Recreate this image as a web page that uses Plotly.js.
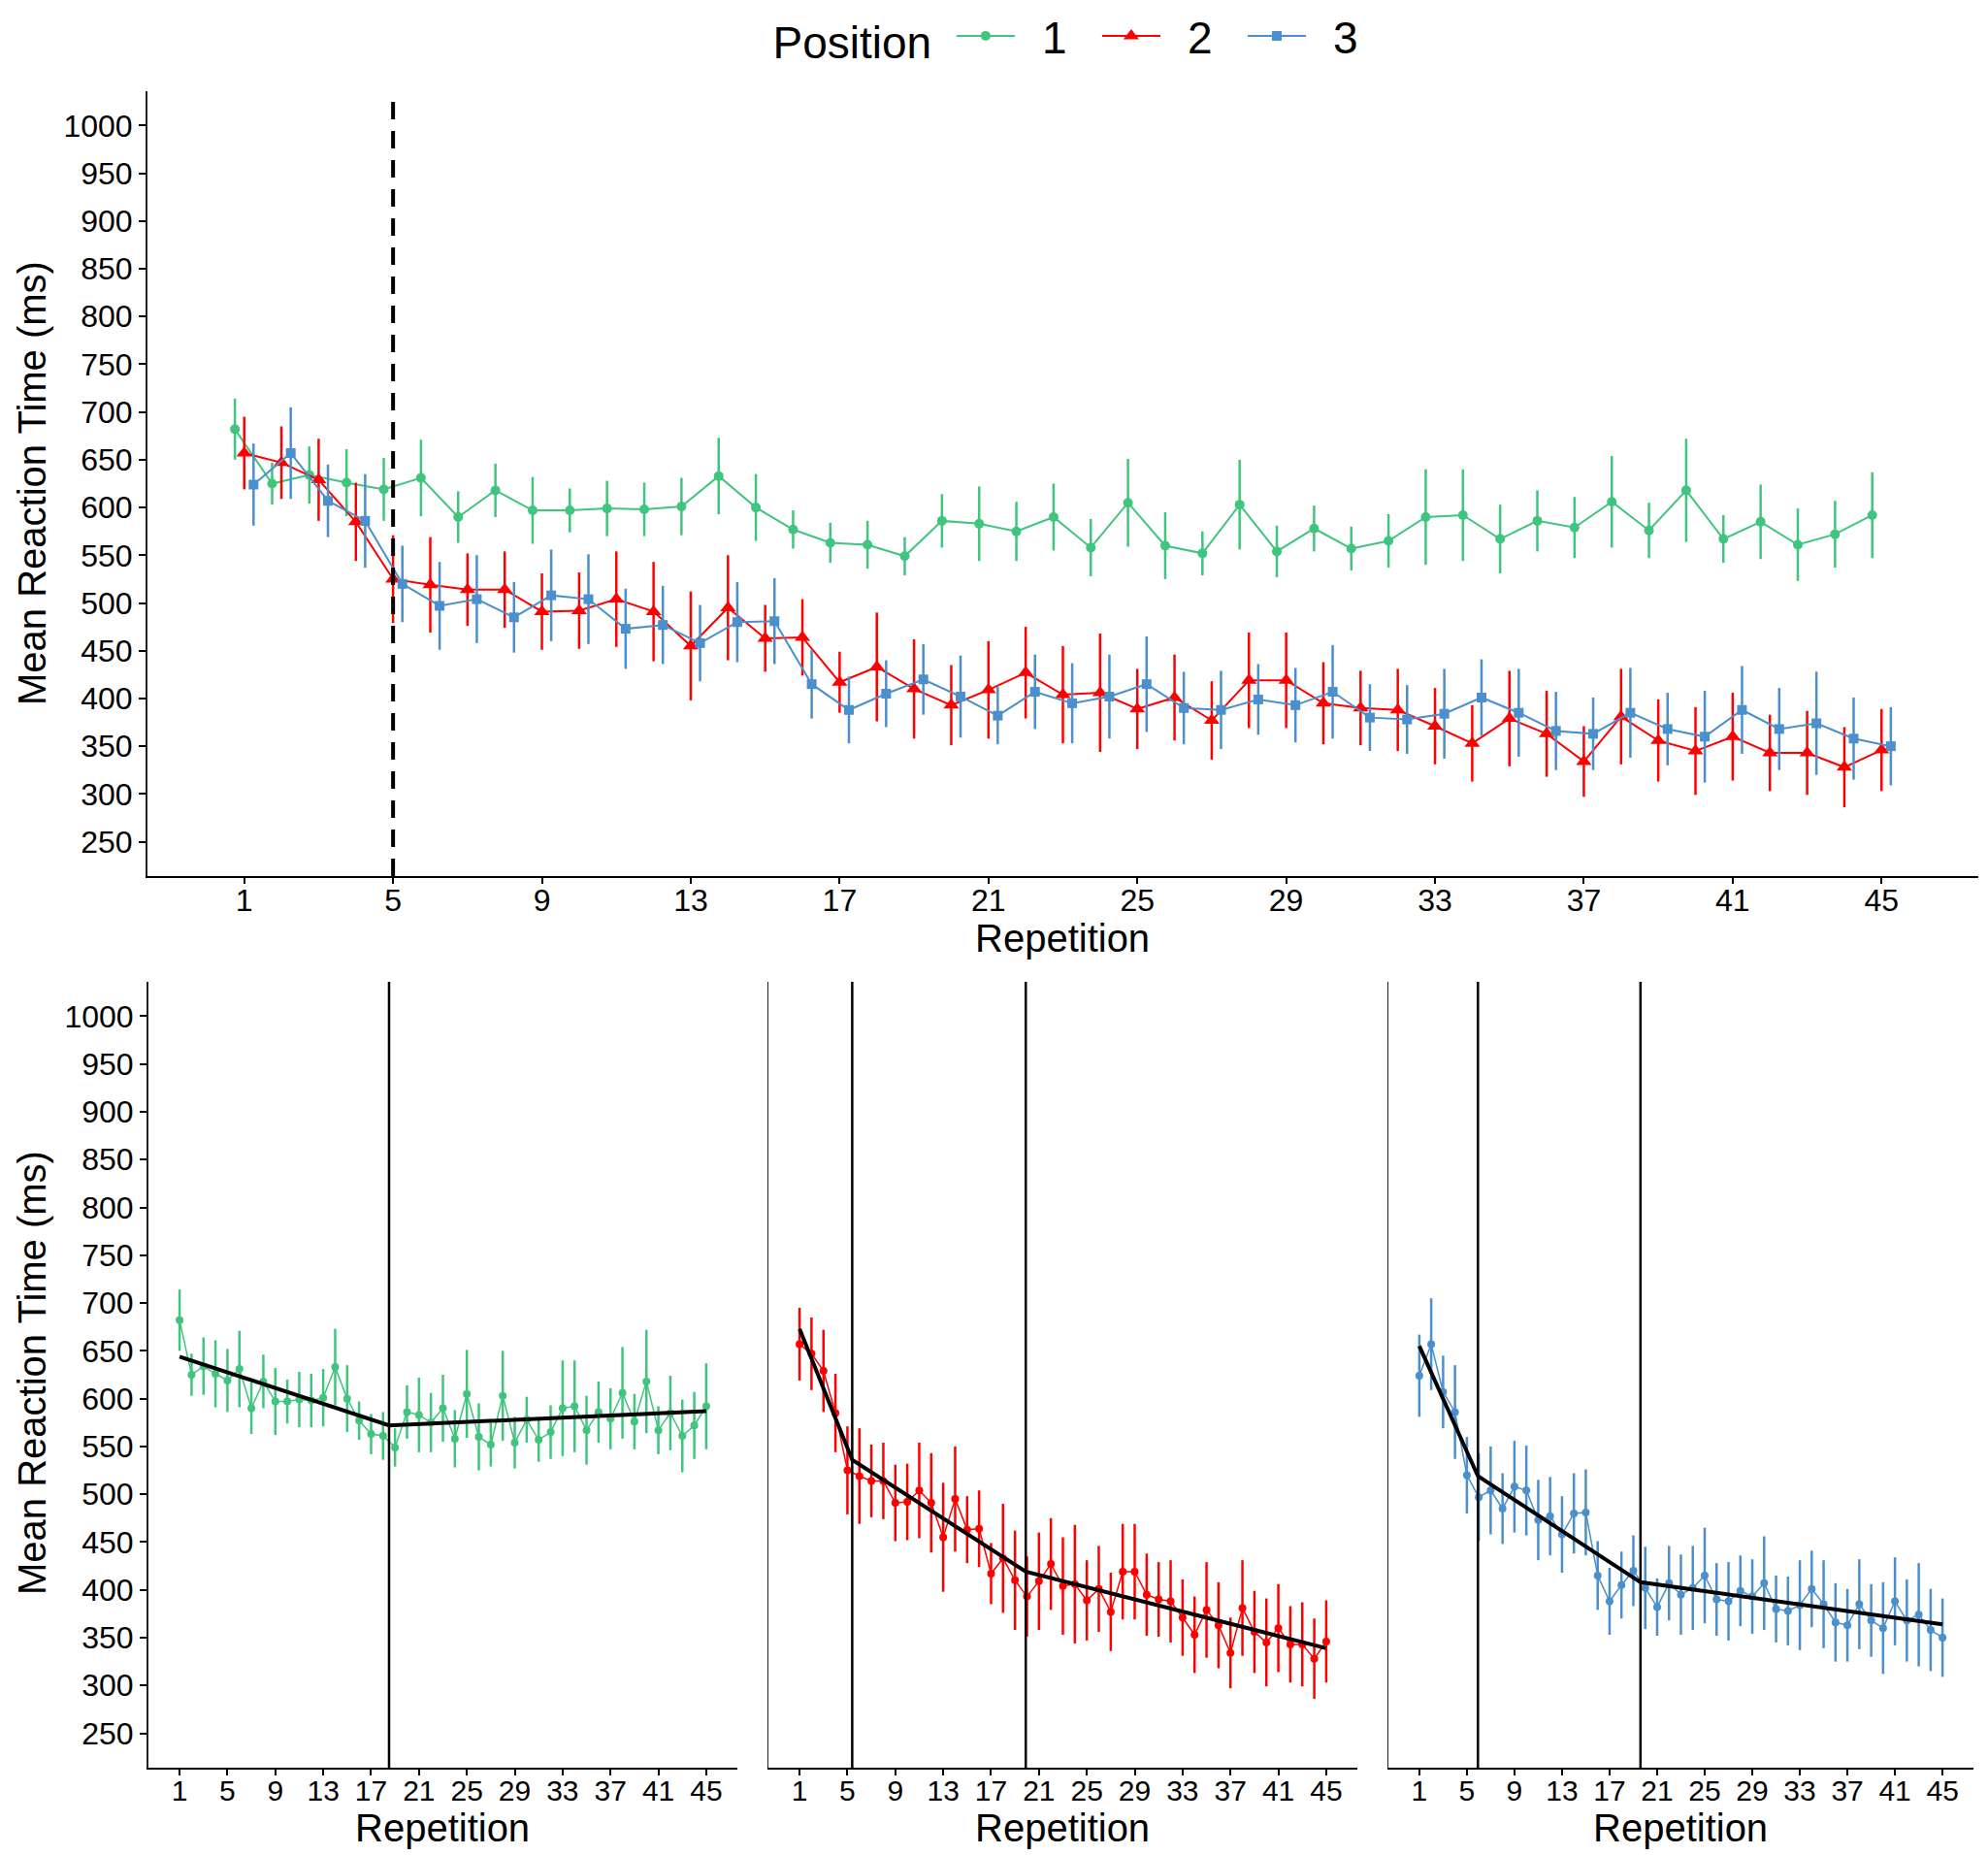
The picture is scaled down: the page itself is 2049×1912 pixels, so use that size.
<!DOCTYPE html>
<html>
<head>
<meta charset="utf-8">
<script src="https://cdn.plot.ly/plotly-3.0.1.min.js"></script>
<style>
  html, body { margin: 0; padding: 0; background: #fff; }
  #graph { width: 2049px; height: 1912px; }
</style>
</head>
<body>
<div id="graph"></div>
<script>
// repetitions and tick labels
const reps = [1, 2, 3, 4, 5, 6, 7, 8, 9, 10, 11, 12, 13, 14, 15, 16, 17, 18, 19, 20, 21, 22, 23,
    24, 25, 26, 27, 28, 29, 30, 31, 32, 33, 34, 35, 36, 37, 38, 39, 40, 41, 42, 43, 44, 45];
const xTicks = [1, 5, 9, 13, 17, 21, 25, 29, 33, 37, 41, 45];
const yTicks = [250, 300, 350, 400, 450, 500, 550, 600, 650, 700, 750, 800, 850, 900, 950, 1000];
const positions = ["1", "2", "3"];

/* Position 1 */
const pos1Mean = [682, 625, 634, 626, 619, 631, 590, 618, 597, 597, 599, 598, 601, 633, 600,
    577, 563, 561, 549, 586, 583, 575, 590, 558, 605, 560, 552, 603, 554, 578,
    557, 565, 590, 592, 567, 586, 579, 606, 576, 618, 567, 585, 561, 572, 592];
const pos1Se = [32, 22, 30, 35, 33, 40, 27, 28, 35, 23, 29, 28, 30, 40, 35,
    20, 21, 25, 20, 28, 39, 31, 35, 30, 46, 35, 23, 47, 27, 24,
    23, 28, 50, 48, 36, 32, 32, 48, 29, 54, 25, 39, 38, 35, 45];

/* Position 2 */
const pos2Mean = [657, 647, 629, 585, 525, 519, 514, 514, 491, 492, 504, 491, 455, 495, 463,
    464, 417, 433, 410, 393, 409, 427, 404, 406, 389, 401, 377, 419, 419, 395,
    390, 388, 371, 353, 379, 363, 334, 381, 356, 345, 360, 343, 343, 328, 346];
const pos2Se = [38, 38, 43, 41, 46, 50, 38, 40, 40, 40, 50, 52, 57, 55, 35,
    40, 32, 57, 52, 42, 51, 48, 51, 62, 42, 45, 41, 50, 50, 43,
    39, 43, 40, 40, 50, 45, 37, 50, 43, 46, 46, 40, 44, 42, 43];

/* Position 3 */
const pos3Mean = [624, 657, 607, 586, 520, 497, 504, 485, 508, 504, 473, 477, 458, 480, 481,
    415, 388, 405, 420, 402, 382, 407, 395, 402, 415, 390, 388, 399, 393, 407,
    380, 378, 384, 401, 385, 366, 363, 385, 368, 360, 388, 368, 374, 358, 350];
const pos3Se = [43, 48, 38, 49, 40, 46, 46, 37, 48, 47, 42, 41, 40, 42, 45,
    36, 35, 35, 37, 43, 30, 39, 42, 44, 50, 38, 41, 37, 39, 49,
    35, 36, 47, 40, 46, 41, 38, 47, 38, 48, 46, 43, 54, 43, 41];

// piecewise fits and breakpoints (lower panels)
const fit1X = [1, 18.5, 45];
const fit1Y = [644, 572, 587];
const fit2X = [1, 5.4, 19.9, 45];
const fit2Y = [673, 536, 419, 339];
const fit3X = [1, 5.93, 19.6, 45];
const fit3Y = [655, 519, 408, 364];
const breaks1 = [18.5];
const breaks2 = [5.4, 19.9];
const breaks3 = [5.93, 19.6];
const onsetRep = 5;

const GREEN = "#3fc57d";
const RED = "#ff0000";
const BLUE = "#4b8fcc";
const FONT = "Liberation Sans, Arial, sans-serif";

function topTrace(mean, se, name, color, symbol, size, shift) {
    return {
        x: reps.map(r => r + shift),
        y: mean,
        name: "\u2002" + name,
        type: "scatter",
        mode: "lines+markers",
        xaxis: "x",
        yaxis: "y",
        line: { color: color, width: 2 },
        marker: { color: color, symbol: symbol, size: size },
        error_y: { type: "data", array: se, visible: true, width: 0, thickness: 2.5, color: color },
    };
}

function facetTrace(mean, se, color, ax) {
    return {
        x: reps,
        y: mean,
        type: "scatter",
        mode: "lines+markers",
        xaxis: "x" + ax,
        yaxis: "y" + ax,
        showlegend: false,
        line: { color: color, width: 1.5 },
        marker: { color: color, symbol: "circle", size: 8 },
        error_y: { type: "data", array: se, visible: true, width: 0, thickness: 2.5, color: color },
    };
}

function fitTrace(fx, fy, ax) {
    return {
        x: fx, y: fy, type: "scatter", mode: "lines",
        xaxis: "x" + ax, yaxis: "y" + ax, showlegend: false,
        line: { color: "#000", width: 4 },
        hoverinfo: "skip",
    };
}

const data = [
    topTrace(pos1Mean, pos1Se, positions[0], GREEN, "circle", 10, -0.25),
    topTrace(pos2Mean, pos2Se, positions[1], RED, "triangle-up", 14, 0),
    topTrace(pos3Mean, pos3Se, positions[2], BLUE, "square", 10, 0.25),
    facetTrace(pos1Mean, pos1Se, GREEN, 2),
    fitTrace(fit1X, fit1Y, 2),
    facetTrace(pos2Mean, pos2Se, RED, 3),
    fitTrace(fit2X, fit2Y, 3),
    facetTrace(pos3Mean, pos3Se, BLUE, 4),
    fitTrace(fit3X, fit3Y, 4),
];

const W = 2049, H = 1912;
const px = v => v / W;
const py = v => 1 - v / H;

function xAxis(dom, anchor, fsize) {
    return {
        domain: dom, anchor: anchor,
        range: [-1.6, 47.6], tickmode: "array", tickvals: xTicks,
        ticks: "outside", ticklen: 6, tickwidth: 2, tickcolor: "#000",
        ticklabelstandoff: -10,
        showline: true, linewidth: 2, linecolor: "#000",
        showgrid: false, zeroline: false,
        tickfont: { family: FONT, size: fsize, color: "#000" },
    };
}

function yAxis(dom, anchor, labels) {
    return {
        domain: dom, anchor: anchor,
        range: [214, 1036], tickmode: "array", tickvals: yTicks,
        ticks: labels ? "outside" : "", ticklen: 7, tickwidth: 2, tickcolor: "#000",
        showticklabels: labels,
        showline: true, linewidth: labels ? 2 : 1.5, linecolor: "#222",
        showgrid: false, zeroline: false,
        tickfont: { family: FONT, size: 32, color: "#000" },
    };
}

const topY = [py(903), py(94)];
const botY = [py(1822), py(1012)];
const p1 = [px(153), px(760)];
const p2 = [px(792), px(1399)];
const p3 = [px(1431), px(2034)];

const shapes = [{
    type: "line", xref: "x", yref: "y domain", x0: onsetRep, x1: onsetRep, y0: 0, y1: 1,
    line: { color: "#000", width: 4, dash: "18px,12px" },
}];
[[breaks1, 2], [breaks2, 3], [breaks3, 4]].forEach(([bs, ax]) => {
    bs.forEach(b => shapes.push({
        type: "line", xref: "x" + ax, yref: "y" + ax + " domain",
        x0: b, x1: b, y0: 0, y1: 1, line: { color: "#000", width: 2.5 },
    }));
});

function title(text, x, y, angle) {
    return {
        text: text, xref: "paper", yref: "paper", x: x, y: y,
        showarrow: false, textangle: angle || 0,
        xanchor: "center", yanchor: "middle",
        font: { family: FONT, size: 40, color: "#000" },
    };
}

const layout = {
    width: W, height: H,
    margin: { l: 0, r: 0, t: 0, b: 0 },
    paper_bgcolor: "#fff", plot_bgcolor: "#fff",
    showlegend: true,
    legend: {
        orientation: "h", x: px(1113), xanchor: "center", y: py(37), yanchor: "middle",
        title: { text: "Position ", side: "left", font: { family: FONT, size: 46, color: "#000" } },
        font: { family: FONT, size: 46, color: "#000" },
        itemwidth: 60,
        entrywidth: 75,
    },
    xaxis: xAxis([px(152), px(2039)], "y", 32),
    yaxis: yAxis(topY, "x", true),
    xaxis2: xAxis(p1, "y2", 30),
    yaxis2: yAxis(botY, "x2", true),
    xaxis3: xAxis(p2, "y3", 30),
    yaxis3: yAxis(botY, "x3", false),
    xaxis4: xAxis(p3, "y4", 30),
    yaxis4: yAxis(botY, "x4", false),
    shapes: shapes,
    annotations: [
        title("Repetition", px(1095), py(967)),
        title("Repetition", px(456), py(1884)),
        title("Repetition", px(1095), py(1884)),
        title("Repetition", px(1732), py(1884)),
        title("Mean Reaction Time (ms)", px(33), py(498), -90),
        title("Mean Reaction Time (ms)", px(33), py(1415), -90),
    ],
};

Plotly.newPlot("graph", data, layout, { staticPlot: true });
</script>
</body>
</html>
